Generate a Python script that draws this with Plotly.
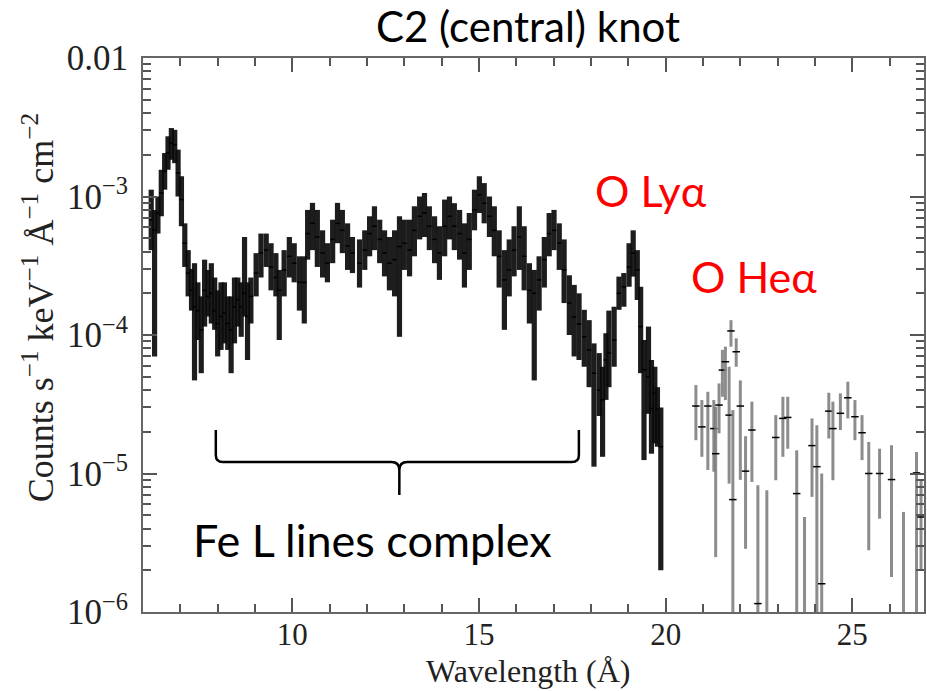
import plotly.graph_objects as go

# ---------------- data (flux in units of 1e-4 counts s^-1 keV^-1 A^-1 cm^-2) -------------
# densely binned part of the spectrum (6-20 A)
lam_dense = [6.22, 6.31, 6.40, 6.49, 6.58, 6.67, 6.76, 6.85, 6.94, 7.03, 7.12, 7.21, 7.30,
             7.38, 7.47, 7.56, 7.65, 7.74, 7.83, 7.92, 8.00, 8.09, 8.18, 8.27, 8.36, 8.45,
             8.54, 8.63, 8.72, 8.80, 8.89, 9.03, 9.16, 9.30, 9.43, 9.56, 9.65, 9.78, 9.92,
             10.05, 10.19, 10.32, 10.41, 10.54, 10.67, 10.81, 10.94, 11.08, 11.21, 11.34,
             11.48, 11.61, 11.80, 11.94, 12.07, 12.20, 12.34, 12.47, 12.60, 12.74, 12.87,
             13.00, 13.14, 13.27, 13.41, 13.54, 13.67, 13.81, 13.94, 14.08, 14.21, 14.34,
             14.48, 14.61, 14.74, 14.88, 15.01, 15.14, 15.28, 15.41, 15.54, 15.68, 15.81,
             15.94, 16.08, 16.21, 16.35, 16.48, 16.61, 16.75, 16.88, 17.01, 17.15, 17.28,
             17.42, 17.55, 17.68, 17.82, 17.95, 18.08, 18.22, 18.31, 18.40, 18.48, 18.62,
             18.75, 18.88, 19.02, 19.13, 19.24, 19.33, 19.42, 19.54, 19.62, 19.71, 19.78, 19.87]
flux_dense = [6.8, 5.7, 7.6, 10.6, 15.2, 20.6, 24.3, 23.7, 14.8, 9.5, 4.6, 2.8, 2.1,
              1.6, 1.5, 1.09, 2.1, 1.9, 2.0, 1.5, 1.21, 1.36, 1.44, 1.21, 1.09, 1.6,
              1.8, 1.6, 2.0, 1.36, 1.9, 2.8, 3.9, 4.1, 3.1, 2.6, 2.1, 2.95, 3.7,
              3.3, 2.4, 2.4, 5.4, 6.4, 5.1, 3.9, 3.3, 4.9, 6.4, 5.7,
              4.4, 3.9, 3.3, 4.1, 5.4, 6.1, 4.9, 3.9, 3.3, 3.5, 4.35,
              4.6, 4.1, 5.7, 7.2, 7.6, 6.1, 4.9, 3.9, 6.1, 7.2, 6.1,
              5.4, 3.9, 4.9, 8.0, 10.3, 8.95, 7.2, 5.7, 3.7, 2.5, 2.95,
              4.1, 5.1, 3.7, 2.1, 2.0, 2.5, 3.5, 5.4, 5.7, 4.6, 2.95,
              1.7, 1.35, 1.2, 0.97, 0.78, 0.53, 0.40, 0.34, 0.66, 0.74, 0.92,
              2.0, 2.23, 3.1, 3.9, 2.95, 1.15, 0.56, 0.50, 0.295, 0.38, 0.29, 0.156]
low_dense = [4.1, 0.70, 5.4, 7.2, 11.2, 15.6, 18.4, 17.4, 10.0, 6.1, 3.1, 1.9, 1.5,
             0.47, 0.92, 0.53, 1.15, 1.36, 1.21, 1.09, 0.70, 0.78, 0.87, 0.78, 0.53, 0.87,
             1.15, 0.97, 1.36, 0.66, 1.21, 1.9, 2.6, 3.1, 2.1, 1.9, 0.92, 1.9, 2.6,
             2.4, 1.5, 1.21, 3.5, 4.1, 3.1, 2.6, 2.4, 3.3, 4.6, 3.9,
             2.95, 2.8, 2.2, 2.95, 3.7, 4.1, 3.3, 2.65, 2.1, 1.9, 0.97,
             2.95, 2.65, 3.7, 4.9, 5.1, 4.1, 3.3, 2.5, 3.7, 4.9, 4.1,
             3.5, 2.2, 2.95, 5.7, 7.6, 6.4, 5.1, 3.7, 2.2, 1.09, 1.9,
             2.65, 2.95, 2.1, 1.21, 0.47, 1.5, 2.2, 3.7, 4.1, 2.95, 1.7,
             1.0, 0.7, 0.66, 0.59, 0.42, 0.112, 0.26, 0.132, 0.34, 0.42, 0.59,
             1.52, 1.6, 2.23, 2.64, 1.79, 0.53, 0.125, 0.27, 0.139, 0.165, 0.156, 0.020]
high_dense = [11.2, 8.0, 10.0, 15.6, 20.6, 27.2, 31.2, 30.3, 21.8, 14.0, 6.4, 4.1, 3.0,
              3.3, 2.4, 1.9, 3.5, 2.95, 3.3, 2.6, 2.1, 2.4, 2.4, 1.9, 1.9, 2.6,
              2.6, 2.4, 5.1, 2.4, 2.6, 3.9, 5.4, 5.4, 4.6, 3.9, 2.95, 4.1, 5.1,
              4.6, 3.7, 3.7, 8.0, 9.0, 8.0, 5.7, 4.6, 6.8, 9.0, 8.0,
              6.4, 5.1, 4.9, 5.7, 7.2, 8.5, 6.8, 5.7, 5.1, 5.7, 7.2,
              6.8, 6.8, 8.5, 10.0, 10.6, 8.5, 7.2, 6.1, 9.5, 10.0, 8.95,
              8.0, 6.4, 7.6, 11.2, 14.0, 12.5, 10.0, 8.5, 5.7, 4.1, 4.9,
              6.1, 8.5, 6.1, 3.3, 2.95, 3.7, 5.1, 7.6, 8.0, 6.4, 4.9,
              2.7, 2.3, 2.0, 1.52, 1.28, 0.87, 0.74, 0.59, 1.03, 1.5, 1.6,
              2.64, 2.8, 4.6, 5.7, 4.1, 2.23, 0.92, 1.15, 0.66, 0.59, 0.42, 0.30]

# sparsely binned part of the spectrum (20.5-27 A)
lam_sparse = [20.81, 20.97, 21.13, 21.29, 21.34, 21.43, 21.52, 21.60, 21.70, 21.75, 21.80,
              21.89, 22.00, 22.14, 22.31, 22.47, 22.71, 22.95, 23.14, 23.27, 23.51, 23.72,
              23.92, 24.05, 24.18, 24.37, 24.48, 24.68, 24.88, 25.07, 25.26, 25.44, 25.73,
              26.05, 26.37, 26.72, 26.84]
flux_sparse = [0.307, 0.217, 0.307, 0.211, 0.139, 0.312, 0.558, 0.641, 0.264, 1.07, 0.0648,
               0.757, 0.307, 0.104, 0.206, 0.0115, 0.008, 0.182, 0.250, 0.254, 0.0716, 0.008,
               0.159, 0.112, 0.016, 0.282, 0.211, 0.272, 0.352, 0.257, 0.197, 0.100, 0.100,
               0.0904, 0.008, 0.101, 0.0485]
low_sparse = [0.174, 0.132, 0.106, 0.103, 0.0249, 0.195, 0.358, 0.339, 0.0845, 0.824, 0.005,
              0.59, 0.09, 0.0286, 0.0869, 0.005, 0.003, 0.0894, 0.132, 0.151, 0.005, 0.003,
              0.0678, 0.005, 0.005, 0.179, 0.0894, 0.206, 0.250, 0.174, 0.125, 0.0279, 0.0472,
              0.0179, 0.003, 0.005, 0.02]
high_sparse = [0.435, 0.339, 0.389, 0.339, 0.303, 0.447, 0.78, 0.824, 0.59, 1.28, 0.287,
               0.946, 0.47, 0.186, 0.330, 0.0822, 0.0757, 0.264, 0.358, 0.358, 0.147, 0.0485,
               0.250, 0.223, 0.100, 0.383, 0.330, 0.379, 0.460, 0.339, 0.264, 0.169, 0.151,
               0.160, 0.0528, 0.143, 0.09]

UNIT = 1e-4
x_range = [6, 26.92]
y_log_range = [-6, -2]
x_tick_vals = [10, 15, 20, 25]
y_tick_vals = [1e-6, 1e-5, 1e-4, 1e-3, 1e-2]
y_tick_text = ["10<sup>−6</sup>", "10<sup>−5</sup>", "10<sup>−4</sup>", "10<sup>−3</sup>", "0.01"]
y_minor_vals = [k * 10.0 ** e for e in (-6, -5, -4, -3) for k in range(2, 10)]

# ---------------- layout geometry (pixels) ----------------
W, H = 927, 691
PL, PR, PT, PB = 143, 926, 58, 612


def fx(px):
    return (px - PL) / (PR - PL)


def fy(py):
    return (PB - py) / (PB - PT)


def make_trace(lam, flux, low, high, halfbin, bar_color, bar_w):
    y = [v * UNIT for v in flux]
    up = [(h - v) * UNIT for v, h in zip(flux, high)]
    dn = [(v - l) * UNIT for v, l in zip(flux, low)]
    return go.Scatter(
        x=lam, y=y, mode="markers",
        marker=dict(size=0.1, color="black"),
        error_y=dict(type="data", symmetric=False, array=up, arrayminus=dn,
                     color=bar_color, thickness=bar_w, width=0),
        error_x=dict(type="constant", value=halfbin, color="black", thickness=1.5, width=0),
        showlegend=False, hoverinfo="skip",
    )


fig = go.Figure()
fig.add_trace(make_trace(lam_dense, flux_dense, low_dense, high_dense, 0.06,
                         "rgba(10,10,10,0.92)", 5.2))
fig.add_trace(make_trace(lam_sparse, flux_sparse, low_sparse, high_sparse, 0.1,
                         "rgba(120,120,120,0.85)", 3))

serif = "Liberation Serif"
axis_common = dict(showline=True, linecolor="#666", linewidth=2, mirror="allticks",
                   ticks="inside", tickcolor="#555", tickwidth=1.5, ticklen=14,
                   showgrid=False, zeroline=False)

fig.update_xaxes(range=x_range, tickvals=x_tick_vals,
                 ticktext=[str(v) for v in x_tick_vals],
                 tickfont=dict(family=serif, size=31, color="#222"),
                 minor=dict(ticks="inside", ticklen=8, dtick=1, tickcolor="#555", tickwidth=1.5),
                 ticklabelstandoff=-6,
                 **axis_common)
fig.update_yaxes(type="log", range=y_log_range, tickvals=y_tick_vals, ticktext=y_tick_text,
                 tickfont=dict(family=serif, size=35, color="#222"),
                 minor=dict(ticks="inside", ticklen=8, tickvals=y_minor_vals,
                            tickcolor="#555", tickwidth=1.5),
                 ticklabelstandoff=6,
                 **axis_common)

sans = "Lato"
annotations = [
    dict(text="Counts s<sup>−1</sup> keV<sup>−1</sup> Å<sup>−1</sup> cm<sup>−2</sup>",
         x=fx(38), y=fy(308), textangle=-90, font=dict(family=serif, size=36, color="#222")),
    dict(text="Wavelength (Å)", x=fx(529), y=fy(671),
         font=dict(family=serif, size=32, color="#222")),
    dict(text="O Lyα", x=fx(652), y=fy(190), font=dict(family=sans, size=43, color="red")),
    dict(text="O Heα", x=fx(756), y=fy(276), font=dict(family=sans, size=43, color="red")),
    dict(text="Fe L lines complex", x=fx(373), y=fy(540),
         font=dict(family=sans, size=45, color="black")),
]
for a in annotations:
    a.update(xref="paper", yref="paper", showarrow=False, xanchor="center", yanchor="middle")

# curly brace under the Fe L region
pts = [("M", 216, 430), ("L", 216, 455), ("Q", 216, 462, 223, 462), ("L", 392, 462),
       ("Q", 400, 462, 400, 470), ("L", 400, 495), ("M", 400, 470), ("Q", 400, 462, 408, 462),
       ("L", 573, 462), ("Q", 580, 462, 580, 455), ("L", 580, 430)]
path = ""
for p in pts:
    cmd = p[0]
    coords = p[1:]
    s = []
    for i in range(0, len(coords), 2):
        s.append(f"{fx(coords[i]):.5f},{fy(coords[i + 1]):.5f}")
    path += cmd + " " + " ".join(s) + " "

fig.update_layout(
    width=W, height=H,
    margin=dict(l=PL, r=W - PR, t=PT, b=H - PB),
    paper_bgcolor="white", plot_bgcolor="white",
    title=dict(text="C2 (central) knot", x=528 / W, y=1 - 27 / H, xanchor="center",
               yanchor="middle", font=dict(family=sans, size=42, color="black")),
    annotations=annotations,
    shapes=[dict(type="path", path=path.strip(), xref="paper", yref="paper",
                 line=dict(color="black", width=2.5))],
)

fig.write_html("out.html")
